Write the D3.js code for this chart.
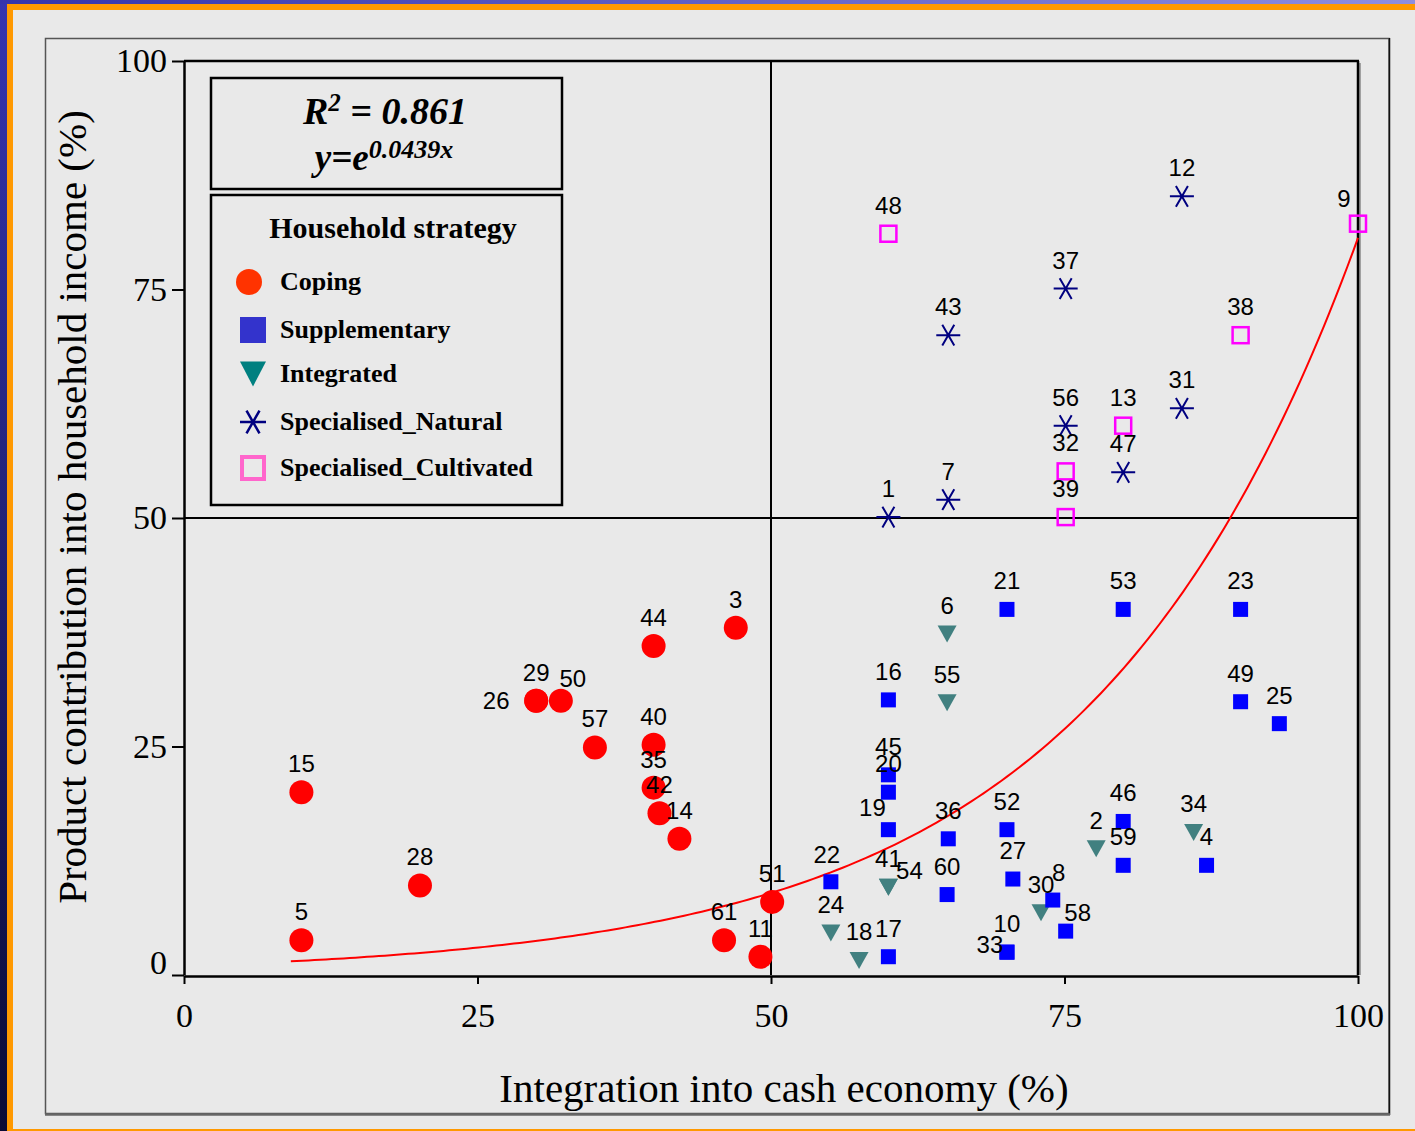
<!DOCTYPE html>
<html>
<head>
<meta charset="utf-8">
<script src="https://cdn.jsdelivr.net/npm/d3@7"></script>
<style>
  html, body { margin: 0; padding: 0; background: #e9e9e9; }
  svg { display: block; }
</style>
</head>
<body>
<script>
// ---------------- DATA ----------------
// [id, integration into cash economy (%), product contribution (%)]
const coping = [
  [15, 10.0, 20.0], [5, 10.0, 3.8], [28, 20.1, 9.8], [26, 30.0, 30.0], [29, 30.0, 30.0],
  [50, 32.1, 30.0], [57, 35.0, 24.9], [44, 40.0, 36.0], [3, 47.0, 38.0], [40, 40.0, 25.2],
  [35, 40.0, 20.5], [42, 40.5, 17.7], [14, 42.2, 14.9], [61, 46.0, 3.8], [11, 49.1, 2.0],
  [51, 50.1, 8.0]
];
const supplementary = [
  [45, 60.0, 21.9], [20, 60.0, 20.0], [19, 60.0, 15.9], [22, 55.1, 10.2], [17, 60.0, 2.0],
  [36, 65.1, 14.9], [60, 65.0, 8.8], [52, 70.1, 15.9], [27, 70.6, 10.5], [10, 70.1, 2.5],
  [33, 70.1, 2.5], [8, 74.0, 8.2], [58, 75.1, 4.8], [21, 70.1, 40.0], [16, 60.0, 30.1],
  [53, 80.0, 40.0], [23, 90.0, 40.0], [49, 90.0, 29.9], [25, 93.3, 27.5], [46, 80.0, 16.8],
  [59, 80.0, 12.0], [4, 87.1, 12.0]
];
const integrated = [
  [6, 65.0, 37.3], [55, 65.0, 29.8], [41, 60.0, 9.6], [54, 60.0, 9.6], [24, 55.1, 4.6],
  [18, 57.5, 1.6], [30, 73.0, 6.8], [2, 77.7, 13.8], [34, 86.0, 15.6]
];
const specNatural = [
  [12, 85.0, 85.2], [37, 75.1, 75.1], [43, 65.1, 70.0], [56, 75.1, 60.1], [31, 85.0, 62.0],
  [47, 80.0, 55.0], [7, 65.1, 52.0], [1, 60.0, 50.1]
];
const specCultivated = [
  [48, 60.0, 81.1], [13, 80.0, 60.1], [32, 75.1, 55.1], [39, 75.1, 50.1], [9, 100.0, 82.2],
  [38, 90.0, 70.0]
];
const xTicks = [0, 25, 50, 75, 100];
const yTicks = [0, 25, 50, 75, 100];
const legendLabels = ["Coping", "Supplementary", "Integrated", "Specialised_Natural", "Specialised_Cultivated"];
const fitCoef = 0.0439;      // y = e^(0.0439x)
const fitR2 = "0.861";
const fitStartX = 9.1;
const fitEndX = 100;
const quadrantX = 50, quadrantY = 50;
const xTitle = "Integration into cash economy (%)";
const yTitle = "Product contribution into household income (%)";
const legendTitle = "Household strategy";

// ---------------- LAYOUT / STYLE ----------------
const W = 1415, H = 1131;
const SERIF = "'Liberation Serif', 'Times New Roman', serif";
const SANS = "'Liberation Sans', Arial, sans-serif";
// label offsets (pixels) for labels not placed straight above their marker
const labelShift = {
  26: [-40, 8], 50: [12, -14], 54: [21, -8], 19: [-16, -14], 33: [-17, 1],
  8: [6, -19], 58: [12, -10], 9: [-14, -17], 22: [-4, -19]
};

const svg = d3.select("body").append("svg").attr("width", W).attr("height", H);
const defs = svg.append("defs");
const gl = defs.append("linearGradient").attr("id", "leftBlue").attr("x1", 0).attr("y1", 0).attr("x2", 0).attr("y2", 1);
gl.append("stop").attr("offset", "0%").attr("stop-color", "#3535b0");
gl.append("stop").attr("offset", "100%").attr("stop-color", "#0a0a35");
const gt = defs.append("linearGradient").attr("id", "topBlue").attr("x1", 0).attr("y1", 0).attr("x2", 1).attr("y2", 0);
gt.append("stop").attr("offset", "0%").attr("stop-color", "#3434ac");
gt.append("stop").attr("offset", "100%").attr("stop-color", "#8e8ee0");

// background & frame stripes
svg.append("rect").attr("width", W).attr("height", H).attr("fill", "#e9e9e9");
svg.append("rect").attr("x", 0).attr("y", 0).attr("width", 7).attr("height", H).attr("fill", "url(#leftBlue)");
svg.append("rect").attr("x", 0).attr("y", 0).attr("width", W).attr("height", 4).attr("fill", "url(#topBlue)");
svg.append("rect").attr("x", 7).attr("y", 4).attr("width", W - 7).attr("height", 6).attr("fill", "#ff9900");
svg.append("rect").attr("x", 7).attr("y", 4).attr("width", 6).attr("height", H - 4).attr("fill", "#ff9900");
svg.append("rect").attr("x", 7).attr("y", H - 2).attr("width", W - 7).attr("height", 2).attr("fill", "#ff9900");

// outer chart box
svg.append("rect").attr("x", 45.5).attr("y", 38.5).attr("width", 1343.5).attr("height", 1075)
  .attr("fill", "none").attr("stroke", "#555").attr("stroke-width", 1.5);
svg.append("line").attr("x1", 1389.5).attr("x2", 1389.5).attr("y1", 38).attr("y2", 1115).attr("stroke", "#111").attr("stroke-width", 1.5);
svg.append("line").attr("x1", 45).attr("x2", 1390).attr("y1", 1114.5).attr("y2", 1114.5).attr("stroke", "#666").attr("stroke-width", 2.5);

// scales
const x = d3.scaleLinear().domain([0, 100]).range([184, 1358]);
const y = d3.scaleLinear().domain([0, 100]).range([975, 61]);

// plot frame (top & right)
svg.append("line").attr("x1", x(100) + 2).attr("x2", x(100) + 2).attr("y1", y(100) + 2).attr("y2", y(0))
  .attr("stroke", "#888").attr("stroke-width", 1.5);
svg.append("line").attr("x1", x(0)).attr("x2", x(100) + 1).attr("y1", y(100)).attr("y2", y(100))
  .attr("stroke", "#000").attr("stroke-width", 2.5);
svg.append("line").attr("x1", x(100)).attr("x2", x(100)).attr("y1", y(100)).attr("y2", y(0))
  .attr("stroke", "#000").attr("stroke-width", 2.5);

// quadrant lines
svg.append("line").attr("x1", x(quadrantX)).attr("x2", x(quadrantX)).attr("y1", y(100)).attr("y2", y(0))
  .attr("stroke", "#000").attr("stroke-width", 2);
svg.append("line").attr("x1", x(0)).attr("x2", x(100)).attr("y1", y(quadrantY)).attr("y2", y(quadrantY))
  .attr("stroke", "#000").attr("stroke-width", 2);

// axes
const yAxisG = svg.append("g").attr("transform", `translate(${x(0)},0)`)
  .call(d3.axisLeft(y).tickValues(yTicks).tickSize(12).tickSizeOuter(0).tickPadding(5).tickFormat(d => d));
const xAxisG = svg.append("g").attr("transform", `translate(0,${y(0) + 1})`)
  .call(d3.axisBottom(x).tickValues(xTicks).tickSize(8).tickSizeOuter(0).tickPadding(19).tickFormat(d => d));
[yAxisG, xAxisG].forEach(g => {
  g.select(".domain").attr("stroke", "#000").attr("stroke-width", 2.5);
  g.selectAll(".tick line").attr("stroke", "#000").attr("stroke-width", 2);
  g.selectAll(".tick text").attr("fill", "#000").style("font-family", SERIF).style("font-size", "34px");
});
yAxisG.selectAll(".tick text").filter(d => d === 0).attr("dy", "-0.03em");

// axis titles
svg.append("text").attr("x", 784).attr("y", 1102).attr("text-anchor", "middle")
  .style("font-family", SERIF).style("font-size", "41px").attr("fill", "#000").text(xTitle);
svg.append("text").attr("transform", "translate(86,507) rotate(-90)").attr("text-anchor", "middle")
  .style("font-family", SERIF).style("font-size", "41px").attr("fill", "#000").text(yTitle);

// fitted curve
const fitXs = d3.range(fitStartX, fitEndX, 0.5).concat([fitEndX]);
const line = d3.line().x(d => x(d)).y(d => y(Math.exp(fitCoef * d)));
svg.append("path").datum(fitXs).attr("d", line).attr("fill", "none").attr("stroke", "#ff0000").attr("stroke-width", 2);

// marker shapes
function trianglePath(w, h) {
  return `M${-w / 2},${-h / 2}L${w / 2},${-h / 2}L0,${h / 2}Z`;
}
function starPath(r) {
  const a = Math.PI / 3;
  return `M${-r},0L${r},0M${-r * Math.cos(a)},${-r * Math.sin(a)}L${r * Math.cos(a)},${r * Math.sin(a)}` +
         `M${-r * Math.cos(a)},${r * Math.sin(a)}L${r * Math.cos(a)},${-r * Math.sin(a)}`;
}

const marks = svg.append("g");
marks.selectAll(".sc").data(specCultivated).join("rect")
  .attr("x", d => x(d[1]) - 8).attr("y", d => y(d[2]) - 8).attr("width", 16).attr("height", 16)
  .attr("fill", "none").attr("stroke", "#ff00ff").attr("stroke-width", 2.5);
marks.selectAll(".sn").data(specNatural).join("path")
  .attr("transform", d => `translate(${x(d[1])},${y(d[2])})`).attr("d", starPath(12))
  .attr("fill", "none").attr("stroke", "#000080").attr("stroke-width", 2);
marks.selectAll(".it").data(integrated).join("path")
  .attr("transform", d => `translate(${x(d[1])},${y(d[2])})`).attr("d", trianglePath(19, 17))
  .attr("fill", "#418080");
marks.selectAll(".sp").data(supplementary).join("rect")
  .attr("x", d => x(d[1]) - 7.5).attr("y", d => y(d[2]) - 7.5).attr("width", 15).attr("height", 15)
  .attr("fill", "#0000ff");
marks.selectAll(".cp").data(coping).join("circle")
  .attr("cx", d => x(d[1])).attr("cy", d => y(d[2])).attr("r", 12).attr("fill", "#ff0000");

// point labels
const allPts = [].concat(coping, supplementary, integrated, specNatural, specCultivated);
svg.append("g").selectAll("text").data(allPts).join("text")
  .attr("x", d => x(d[1]) + (labelShift[d[0]] ? labelShift[d[0]][0] : 0))
  .attr("y", d => y(d[2]) + (labelShift[d[0]] ? labelShift[d[0]][1] : -20))
  .attr("text-anchor", "middle").style("font-family", SANS).style("font-size", "24px")
  .attr("fill", "#000").text(d => d[0]);

// equation box
svg.append("rect").attr("x", 211).attr("y", 78).attr("width", 351).attr("height", 111)
  .attr("fill", "#e9e9e9").attr("stroke", "#000").attr("stroke-width", 2.5);
const r2 = svg.append("text").attr("x", 385).attr("y", 124).attr("text-anchor", "middle")
  .style("font-family", SERIF).style("font-weight", "bold").style("font-style", "italic")
  .style("font-size", "38px").attr("fill", "#000");
r2.append("tspan").text("R");
r2.append("tspan").attr("dy", -13).style("font-size", "25px").text("2");
r2.append("tspan").attr("dy", 13).text(" = " + fitR2);
const eq = svg.append("text").attr("x", 384).attr("y", 170).attr("text-anchor", "middle")
  .style("font-family", SERIF).style("font-weight", "bold").style("font-style", "italic")
  .style("font-size", "37px").attr("fill", "#000");
eq.append("tspan").text("y=e");
eq.append("tspan").attr("dy", -12).style("font-size", "26px").text(fitCoef + "x");

// legend box
svg.append("rect").attr("x", 211).attr("y", 195).attr("width", 351).attr("height", 310)
  .attr("fill", "#e9e9e9").attr("stroke", "#000").attr("stroke-width", 2.5);
svg.append("text").attr("x", 393).attr("y", 238).attr("text-anchor", "middle")
  .style("font-family", SERIF).style("font-weight", "bold").style("font-size", "30px")
  .attr("fill", "#000").text(legendTitle);
const legY = [282, 330, 374, 422, 468];
const leg = svg.append("g");
leg.append("circle").attr("cx", 249).attr("cy", legY[0]).attr("r", 13).attr("fill", "#ff3300");
leg.append("rect").attr("x", 240).attr("y", legY[1] - 13).attr("width", 26).attr("height", 26).attr("fill", "#3333cc");
leg.append("path").attr("transform", `translate(253,${legY[2]})`).attr("d", trianglePath(26, 25)).attr("fill", "#008080");
leg.append("path").attr("transform", `translate(253,${legY[3]})`).attr("d", starPath(13))
  .attr("fill", "none").attr("stroke", "#000080").attr("stroke-width", 2.5);
leg.append("rect").attr("x", 242).attr("y", legY[4] - 11).attr("width", 22).attr("height", 22)
  .attr("fill", "none").attr("stroke", "#ff66cc").attr("stroke-width", 4);
leg.selectAll("text").data(legendLabels).join("text")
  .attr("x", 280).attr("y", (d, i) => legY[i] + 8)
  .style("font-family", SERIF).style("font-weight", "bold").style("font-size", "26px")
  .attr("fill", "#000").text(d => d);
</script>
</body>
</html>
